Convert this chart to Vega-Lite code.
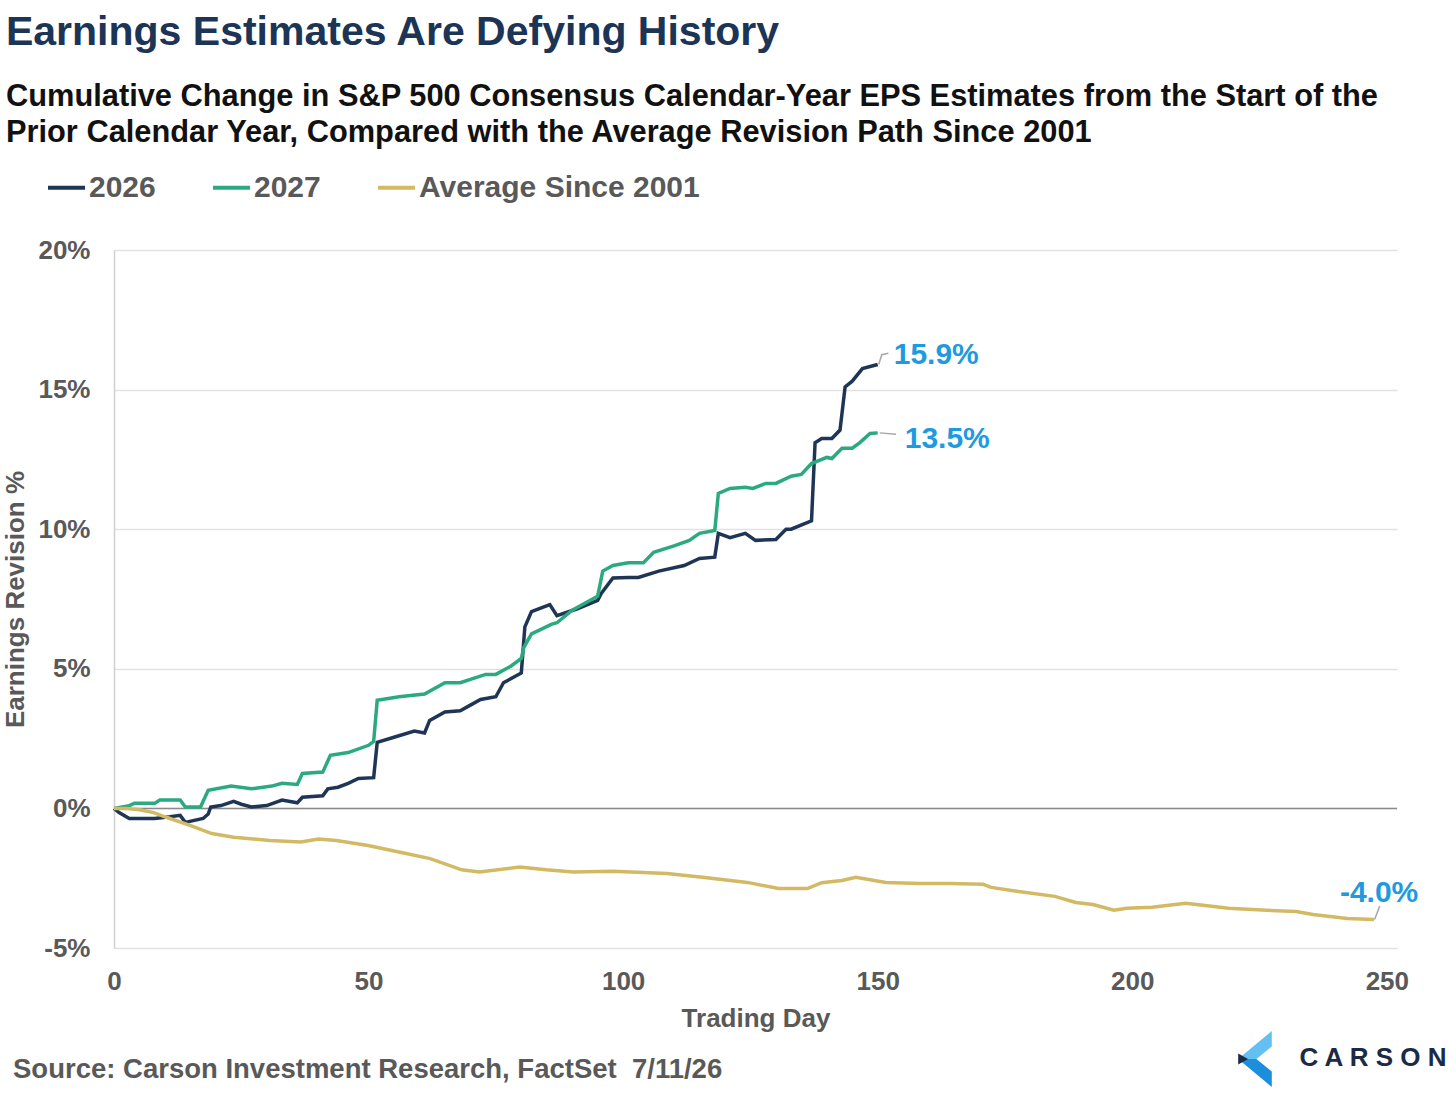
{
  "$schema": "https://vega.github.io/schema/vega-lite/v6.json",
  "width": 1283,
  "height": 698,
  "autosize": {"type": "none"},
  "padding": {"left": 114, "top": 250, "right": 59, "bottom": 150},
  "background": "white",
  "config": {
    "font": "Liberation Sans",
    "view": {"stroke": null},
    "legend": {"padding": 0}
  },
  "title": {
    "text": "Earnings Estimates Are Defying History",
    "subtitle": [
      "Cumulative Change in S&P 500 Consensus Calendar-Year EPS Estimates from the Start of the",
      "Prior Calendar Year, Compared with the Average Revision Path Since 2001"
    ],
    "anchor": "start",
    "frame": "bounds",
    "dx": 3,
    "font": "Liberation Sans",
    "fontSize": 41,
    "fontWeight": "bold",
    "color": "#1c3455",
    "subtitleFont": "Liberation Sans",
    "subtitleFontSize": 30.8,
    "subtitleFontWeight": "bold",
    "subtitleColor": "#111111",
    "subtitleLineHeight": 36,
    "subtitlePadding": 28,
    "offset": 18
  },
  "datasets": {
    "series": [
      {"day": 0, "value": 0, "series": "2026"},
      {"day": 1, "value": -0.15, "series": "2026"},
      {"day": 3, "value": -0.36, "series": "2026"},
      {"day": 8, "value": -0.36, "series": "2026"},
      {"day": 11, "value": -0.3, "series": "2026"},
      {"day": 13, "value": -0.25, "series": "2026"},
      {"day": 14, "value": -0.5, "series": "2026"},
      {"day": 17.5, "value": -0.36, "series": "2026"},
      {"day": 18.5, "value": -0.2, "series": "2026"},
      {"day": 19, "value": 0.05, "series": "2026"},
      {"day": 21, "value": 0.1, "series": "2026"},
      {"day": 23.5, "value": 0.25, "series": "2026"},
      {"day": 25, "value": 0.15, "series": "2026"},
      {"day": 27, "value": 0.05, "series": "2026"},
      {"day": 30, "value": 0.1, "series": "2026"},
      {"day": 33, "value": 0.3, "series": "2026"},
      {"day": 36, "value": 0.2, "series": "2026"},
      {"day": 37, "value": 0.4, "series": "2026"},
      {"day": 41, "value": 0.45, "series": "2026"},
      {"day": 42, "value": 0.7, "series": "2026"},
      {"day": 44, "value": 0.76, "series": "2026"},
      {"day": 46, "value": 0.9, "series": "2026"},
      {"day": 48, "value": 1.07, "series": "2026"},
      {"day": 51, "value": 1.1, "series": "2026"},
      {"day": 51.7, "value": 2.37, "series": "2026"},
      {"day": 55, "value": 2.55, "series": "2026"},
      {"day": 59, "value": 2.77, "series": "2026"},
      {"day": 61, "value": 2.7, "series": "2026"},
      {"day": 62, "value": 3.15, "series": "2026"},
      {"day": 65, "value": 3.45, "series": "2026"},
      {"day": 68, "value": 3.5, "series": "2026"},
      {"day": 70, "value": 3.7, "series": "2026"},
      {"day": 72, "value": 3.9, "series": "2026"},
      {"day": 75, "value": 4.0, "series": "2026"},
      {"day": 76.5, "value": 4.5, "series": "2026"},
      {"day": 80, "value": 4.85, "series": "2026"},
      {"day": 80.7, "value": 6.5, "series": "2026"},
      {"day": 82, "value": 7.05, "series": "2026"},
      {"day": 85.6, "value": 7.3, "series": "2026"},
      {"day": 87, "value": 6.9, "series": "2026"},
      {"day": 91, "value": 7.15, "series": "2026"},
      {"day": 95, "value": 7.45, "series": "2026"},
      {"day": 95.7, "value": 7.7, "series": "2026"},
      {"day": 98, "value": 8.25, "series": "2026"},
      {"day": 101, "value": 8.27, "series": "2026"},
      {"day": 103, "value": 8.27, "series": "2026"},
      {"day": 107, "value": 8.5, "series": "2026"},
      {"day": 112, "value": 8.7, "series": "2026"},
      {"day": 115, "value": 8.95, "series": "2026"},
      {"day": 118, "value": 9.0, "series": "2026"},
      {"day": 118.7, "value": 9.85, "series": "2026"},
      {"day": 121, "value": 9.7, "series": "2026"},
      {"day": 124, "value": 9.85, "series": "2026"},
      {"day": 126, "value": 9.6, "series": "2026"},
      {"day": 130, "value": 9.63, "series": "2026"},
      {"day": 132, "value": 10.0, "series": "2026"},
      {"day": 133, "value": 10.0, "series": "2026"},
      {"day": 137, "value": 10.3, "series": "2026"},
      {"day": 137.7, "value": 13.1, "series": "2026"},
      {"day": 139, "value": 13.25, "series": "2026"},
      {"day": 141, "value": 13.25, "series": "2026"},
      {"day": 142.6, "value": 13.55, "series": "2026"},
      {"day": 143.6, "value": 15.1, "series": "2026"},
      {"day": 145, "value": 15.3, "series": "2026"},
      {"day": 147, "value": 15.75, "series": "2026"},
      {"day": 150, "value": 15.9, "series": "2026"},

      {"day": 0, "value": 0, "series": "2027"},
      {"day": 3, "value": 0.1, "series": "2027"},
      {"day": 4, "value": 0.18, "series": "2027"},
      {"day": 8, "value": 0.18, "series": "2027"},
      {"day": 9, "value": 0.3, "series": "2027"},
      {"day": 13, "value": 0.3, "series": "2027"},
      {"day": 14, "value": 0.05, "series": "2027"},
      {"day": 17, "value": 0.05, "series": "2027"},
      {"day": 18.5, "value": 0.65, "series": "2027"},
      {"day": 23, "value": 0.8, "series": "2027"},
      {"day": 27, "value": 0.7, "series": "2027"},
      {"day": 31, "value": 0.8, "series": "2027"},
      {"day": 33, "value": 0.9, "series": "2027"},
      {"day": 36, "value": 0.86, "series": "2027"},
      {"day": 37, "value": 1.25, "series": "2027"},
      {"day": 41, "value": 1.3, "series": "2027"},
      {"day": 42.5, "value": 1.9, "series": "2027"},
      {"day": 46, "value": 2.0, "series": "2027"},
      {"day": 50, "value": 2.26, "series": "2027"},
      {"day": 51, "value": 2.4, "series": "2027"},
      {"day": 51.7, "value": 3.87, "series": "2027"},
      {"day": 56, "value": 4.0, "series": "2027"},
      {"day": 61, "value": 4.1, "series": "2027"},
      {"day": 65, "value": 4.5, "series": "2027"},
      {"day": 68, "value": 4.5, "series": "2027"},
      {"day": 73, "value": 4.8, "series": "2027"},
      {"day": 75, "value": 4.8, "series": "2027"},
      {"day": 78, "value": 5.1, "series": "2027"},
      {"day": 80, "value": 5.37, "series": "2027"},
      {"day": 80.5, "value": 5.77, "series": "2027"},
      {"day": 82, "value": 6.25, "series": "2027"},
      {"day": 86, "value": 6.6, "series": "2027"},
      {"day": 87, "value": 6.65, "series": "2027"},
      {"day": 90, "value": 7.1, "series": "2027"},
      {"day": 94, "value": 7.5, "series": "2027"},
      {"day": 95, "value": 7.6, "series": "2027"},
      {"day": 96, "value": 8.5, "series": "2027"},
      {"day": 98, "value": 8.7, "series": "2027"},
      {"day": 101, "value": 8.8, "series": "2027"},
      {"day": 104, "value": 8.8, "series": "2027"},
      {"day": 106, "value": 9.17, "series": "2027"},
      {"day": 110, "value": 9.4, "series": "2027"},
      {"day": 113, "value": 9.6, "series": "2027"},
      {"day": 115, "value": 9.85, "series": "2027"},
      {"day": 118, "value": 9.95, "series": "2027"},
      {"day": 118.7, "value": 11.28, "series": "2027"},
      {"day": 121, "value": 11.46, "series": "2027"},
      {"day": 124, "value": 11.5, "series": "2027"},
      {"day": 125.5, "value": 11.46, "series": "2027"},
      {"day": 128, "value": 11.64, "series": "2027"},
      {"day": 130, "value": 11.64, "series": "2027"},
      {"day": 133, "value": 11.9, "series": "2027"},
      {"day": 135, "value": 11.96, "series": "2027"},
      {"day": 137, "value": 12.35, "series": "2027"},
      {"day": 140, "value": 12.57, "series": "2027"},
      {"day": 141, "value": 12.53, "series": "2027"},
      {"day": 143, "value": 12.9, "series": "2027"},
      {"day": 145, "value": 12.9, "series": "2027"},
      {"day": 146.5, "value": 13.1, "series": "2027"},
      {"day": 148.5, "value": 13.43, "series": "2027"},
      {"day": 150, "value": 13.45, "series": "2027"},

      {"day": 0, "value": 0, "series": "Average Since 2001"},
      {"day": 2.5, "value": 0, "series": "Average Since 2001"},
      {"day": 5, "value": -0.05, "series": "Average Since 2001"},
      {"day": 7.8, "value": -0.15, "series": "Average Since 2001"},
      {"day": 10, "value": -0.3, "series": "Average Since 2001"},
      {"day": 14.8, "value": -0.6, "series": "Average Since 2001"},
      {"day": 19.2, "value": -0.9, "series": "Average Since 2001"},
      {"day": 23.5, "value": -1.03, "series": "Average Since 2001"},
      {"day": 30.6, "value": -1.15, "series": "Average Since 2001"},
      {"day": 36.7, "value": -1.2, "series": "Average Since 2001"},
      {"day": 40.2, "value": -1.1, "series": "Average Since 2001"},
      {"day": 43.7, "value": -1.15, "series": "Average Since 2001"},
      {"day": 49.9, "value": -1.33, "series": "Average Since 2001"},
      {"day": 56.9, "value": -1.6, "series": "Average Since 2001"},
      {"day": 62.1, "value": -1.8, "series": "Average Since 2001"},
      {"day": 68.3, "value": -2.2, "series": "Average Since 2001"},
      {"day": 71.8, "value": -2.28, "series": "Average Since 2001"},
      {"day": 79.7, "value": -2.1, "series": "Average Since 2001"},
      {"day": 84.9, "value": -2.2, "series": "Average Since 2001"},
      {"day": 90.2, "value": -2.28, "series": "Average Since 2001"},
      {"day": 98, "value": -2.25, "series": "Average Since 2001"},
      {"day": 108.6, "value": -2.33, "series": "Average Since 2001"},
      {"day": 115.6, "value": -2.47, "series": "Average Since 2001"},
      {"day": 124.4, "value": -2.65, "series": "Average Since 2001"},
      {"day": 130.5, "value": -2.87, "series": "Average Since 2001"},
      {"day": 136.2, "value": -2.87, "series": "Average Since 2001"},
      {"day": 139, "value": -2.66, "series": "Average Since 2001"},
      {"day": 143, "value": -2.58, "series": "Average Since 2001"},
      {"day": 145.7, "value": -2.47, "series": "Average Since 2001"},
      {"day": 151.6, "value": -2.65, "series": "Average Since 2001"},
      {"day": 158.3, "value": -2.69, "series": "Average Since 2001"},
      {"day": 164, "value": -2.69, "series": "Average Since 2001"},
      {"day": 170.7, "value": -2.72, "series": "Average Since 2001"},
      {"day": 172.3, "value": -2.83, "series": "Average Since 2001"},
      {"day": 177.3, "value": -2.97, "series": "Average Since 2001"},
      {"day": 184.8, "value": -3.15, "series": "Average Since 2001"},
      {"day": 188.9, "value": -3.37, "series": "Average Since 2001"},
      {"day": 192.3, "value": -3.44, "series": "Average Since 2001"},
      {"day": 196.4, "value": -3.65, "series": "Average Since 2001"},
      {"day": 198.9, "value": -3.58, "series": "Average Since 2001"},
      {"day": 203.9, "value": -3.54, "series": "Average Since 2001"},
      {"day": 210.5, "value": -3.4, "series": "Average Since 2001"},
      {"day": 213.9, "value": -3.47, "series": "Average Since 2001"},
      {"day": 218.9, "value": -3.58, "series": "Average Since 2001"},
      {"day": 226.4, "value": -3.65, "series": "Average Since 2001"},
      {"day": 232.2, "value": -3.69, "series": "Average Since 2001"},
      {"day": 235.5, "value": -3.8, "series": "Average Since 2001"},
      {"day": 242.2, "value": -3.94, "series": "Average Since 2001"},
      {"day": 247.5, "value": -3.98, "series": "Average Since 2001"}
    ],
    "leaders": [
      {"leader": "2026", "day": 150.2, "value": 15.9},
      {"leader": "2026", "day": 150.8, "value": 16.25},
      {"leader": "2026", "day": 152.1, "value": 16.3},
      {"leader": "2027", "day": 150.4, "value": 13.45},
      {"leader": "2027", "day": 153.6, "value": 13.4},
      {"leader": "avg", "day": 247.6, "value": -3.98},
      {"leader": "avg", "day": 248.6, "value": -3.5}
    ],
    "labels": [
      {"series": "2026", "day": 150, "value": 15.9, "label": "15.9%"},
      {"series": "2027", "day": 150, "value": 13.45, "label": "13.5%"},
      {"series": "Average Since 2001", "day": 247.5, "value": -3.98, "label": "-4.0%"}
    ],
    "notes": [
      {"note": "Source: Carson Investment Research, FactSet\u00a0\u00a07/11/26", "brand": "C A R S O N"}
    ],
    "baseline": [{"base": 0}]
  },
  "layer": [
    {
      "data": {"name": "baseline"},
      "mark": {"type": "rule", "color": "#8a8a8a", "strokeWidth": 1.5},
      "encoding": {"y": {"field": "base", "type": "quantitative"}}
    },
    {
      "data": {"name": "series"},
      "mark": {"type": "line", "strokeWidth": 3.5},
      "encoding": {
        "x": {
          "field": "day",
          "type": "quantitative",
          "scale": {"domain": [0, 252], "nice": false, "zero": false},
          "axis": {
            "values": [0, 50, 100, 150, 200, 250],
            "domain": false,
            "ticks": false,
            "grid": false,
            "labelFlush": false,
            "labelFont": "Liberation Sans",
            "labelFontSize": 26,
            "labelFontWeight": "bold",
            "labelColor": "#595959",
            "labelPadding": 20,
            "title": "Trading Day",
            "titleFont": "Liberation Sans",
            "titleFontSize": 26,
            "titleFontWeight": "bold",
            "titleColor": "#595959",
            "titlePadding": 11
          }
        },
        "y": {
          "field": "value",
          "type": "quantitative",
          "scale": {"domain": [-5, 20], "nice": false},
          "axis": {
            "values": [-5, 0, 5, 10, 15, 20],
            "labelExpr": "datum.value + '%'",
            "domain": true,
            "domainColor": "#d0d0d0",
            "domainWidth": 1.5,
            "ticks": false,
            "grid": true,
            "gridColor": "#e2e2e2",
            "gridWidth": 1.5,
            "labelFont": "Liberation Sans",
            "labelFontSize": 26,
            "labelFontWeight": "bold",
            "labelColor": "#595959",
            "labelPadding": 24,
            "title": "Earnings Revision %",
            "titleFont": "Liberation Sans",
            "titleFontSize": 26,
            "titleFontWeight": "bold",
            "titleColor": "#595959",
            "titlePadding": 9
          }
        },
        "color": {
          "field": "series",
          "type": "nominal",
          "scale": {
            "domain": ["2026", "2027", "Average Since 2001"],
            "range": ["#1f3555", "#2aaa7e", "#d3b964"]
          },
          "legend": {
            "title": null,
            "orient": "none",
            "direction": "horizontal",
            "legendX": -68,
            "legendY": -83,
            "symbolType": "stroke",
            "symbolSize": 1369,
            "symbolStrokeWidth": 4,
            "labelFont": "Liberation Sans",
            "labelFontSize": 30,
            "labelFontWeight": "bold",
            "labelColor": "#595959",
            "labelOffset": 2,
            "labelLimit": 0,
            "columnPadding": 49
          }
        },
        "order": {"field": "day", "type": "quantitative"}
      }
    },
    {
      "data": {"name": "leaders"},
      "mark": {"type": "line", "color": "#a8a8a8", "strokeWidth": 1.5},
      "encoding": {
        "x": {"field": "day", "type": "quantitative"},
        "y": {"field": "value", "type": "quantitative"},
        "detail": {"field": "leader"}
      }
    },
    {
      "data": {"name": "labels"},
      "transform": [{"filter": "datum.series === '2026'"}],
      "mark": {"type": "text", "align": "left", "baseline": "middle", "dx": 16, "dy": -9, "fontSize": 30, "fontWeight": "bold", "color": "#1e9ae0"},
      "encoding": {
        "x": {"field": "day", "type": "quantitative"},
        "y": {"field": "value", "type": "quantitative"},
        "text": {"field": "label"}
      }
    },
    {
      "data": {"name": "labels"},
      "transform": [{"filter": "datum.series === '2027'"}],
      "mark": {"type": "text", "align": "left", "baseline": "middle", "dx": 27, "dy": 6, "fontSize": 30, "fontWeight": "bold", "color": "#1e9ae0"},
      "encoding": {
        "x": {"field": "day", "type": "quantitative"},
        "y": {"field": "value", "type": "quantitative"},
        "text": {"field": "label"}
      }
    },
    {
      "data": {"name": "labels"},
      "transform": [{"filter": "datum.series === 'Average Since 2001'"}],
      "mark": {"type": "text", "align": "center", "baseline": "middle", "dx": 5, "dy": -27, "fontSize": 30, "fontWeight": "bold", "color": "#1e9ae0"},
      "encoding": {
        "x": {"field": "day", "type": "quantitative"},
        "y": {"field": "value", "type": "quantitative"},
        "text": {"field": "label"}
      }
    },
    {
      "data": {"name": "notes"},
      "mark": {"type": "text", "align": "left", "baseline": "middle", "dx": -101, "dy": 122, "fontSize": 27.5, "fontWeight": "bold", "color": "#595959"},
      "encoding": {
        "x": {"datum": 0},
        "y": {"datum": -5},
        "text": {"field": "note"}
      }
    },
    {
      "data": {"name": "notes"},
      "mark": {"type": "text", "align": "center", "baseline": "middle", "dx": -24, "dy": 110, "fontSize": 26, "fontWeight": "bold", "color": "#1c2b45"},
      "encoding": {
        "x": {"datum": 252},
        "y": {"datum": -5},
        "text": {"field": "brand"}
      }
    },
    {
      "data": {"name": "notes"},
      "mark": {"type": "point", "filled": true, "opacity": 1, "strokeWidth": 0, "size": 3136, "color": "#62c0f2", "shape": "M0.6,-1L0.6,-0.45L0.05,0L-0.6,0Z"},
      "encoding": {"x": {"datum": 252}, "y": {"datum": -5}, "xOffset": {"value": -142}, "yOffset": {"value": 111}}
    },
    {
      "data": {"name": "notes"},
      "mark": {"type": "point", "filled": true, "opacity": 1, "strokeWidth": 0, "size": 3136, "color": "#1b8fdc", "shape": "M-0.6,0L0.05,0L0.6,0.45L0.6,1Z"},
      "encoding": {"x": {"datum": 252}, "y": {"datum": -5}, "xOffset": {"value": -142}, "yOffset": {"value": 111}}
    },
    {
      "data": {"name": "notes"},
      "mark": {"type": "point", "filled": true, "opacity": 1, "strokeWidth": 0, "size": 3136, "color": "#1c2b45", "shape": "M-0.6,-0.2L-0.6,0.2L-0.25,0Z"},
      "encoding": {"x": {"datum": 252}, "y": {"datum": -5}, "xOffset": {"value": -142}, "yOffset": {"value": 111}}
    }
  ]
}
